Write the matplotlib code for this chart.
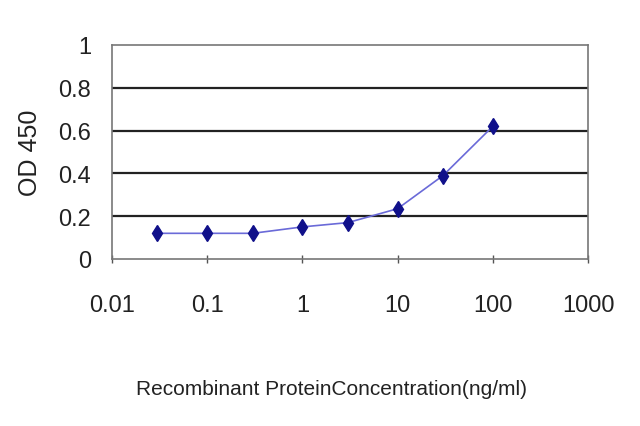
import matplotlib
matplotlib.use("Agg")
import matplotlib.pyplot as plt
from matplotlib.ticker import FixedLocator, FixedFormatter, NullLocator

concentration = [0.03, 0.1, 0.3, 1, 3, 10, 30, 100]
od450 = [0.12, 0.12, 0.12, 0.15, 0.17, 0.235, 0.39, 0.62]
x_ticks = [0.01, 0.1, 1, 10, 100, 1000]
x_tick_labels = ["0.01", "0.1", "1", "10", "100", "1000"]
y_ticks = [0, 0.2, 0.4, 0.6, 0.8, 1]
y_tick_labels = ["0", "0.2", "0.4", "0.6", "0.8", "1"]

plt.rcParams['font.family'] = ['Liberation Sans', 'DejaVu Sans']

fig = plt.figure(figsize=(6.4, 4.27), dpi=100)
ax = fig.add_axes([112/640, 1-260/427, (588-112)/640, (260-46)/427])

ax.set_xscale('log')
ax.set_xlim(0.01, 1000)
ax.set_ylim(0, 1)

for y in y_ticks[1:-1]:
    ax.axhline(y, color='#222222', lw=1.6, zorder=1)

ax.plot(concentration, od450, color='#6a6ad8', lw=1.2, zorder=2,
        marker='d', markersize=8.5, markerfacecolor='#10108a',
        markeredgecolor='#10108a')

ax.xaxis.set_major_locator(FixedLocator(x_ticks))
ax.xaxis.set_major_formatter(FixedFormatter(x_tick_labels))
ax.xaxis.set_minor_locator(NullLocator())
ax.yaxis.set_major_locator(FixedLocator(y_ticks))
ax.yaxis.set_major_formatter(FixedFormatter(y_tick_labels))

ax.tick_params(axis='x', direction='inout', length=6, width=1, color='#555555',
               labelsize=17, pad=22, labelcolor='#222222')
ax.tick_params(axis='y', length=0, labelsize=17, pad=15, labelcolor='#222222')

for s in ax.spines.values():
    s.set_color('#777777')
    s.set_linewidth(1.2)

ax.set_ylabel('OD 450', fontsize=18, color='#222222', labelpad=12)
fig.text(331/640, 1-390/427, 'Recombinant ProteinConcentration(ng/ml)',
         ha='center', va='center', fontsize=15, color='#222222')

fig.savefig('out.png', dpi=100, facecolor='white')
